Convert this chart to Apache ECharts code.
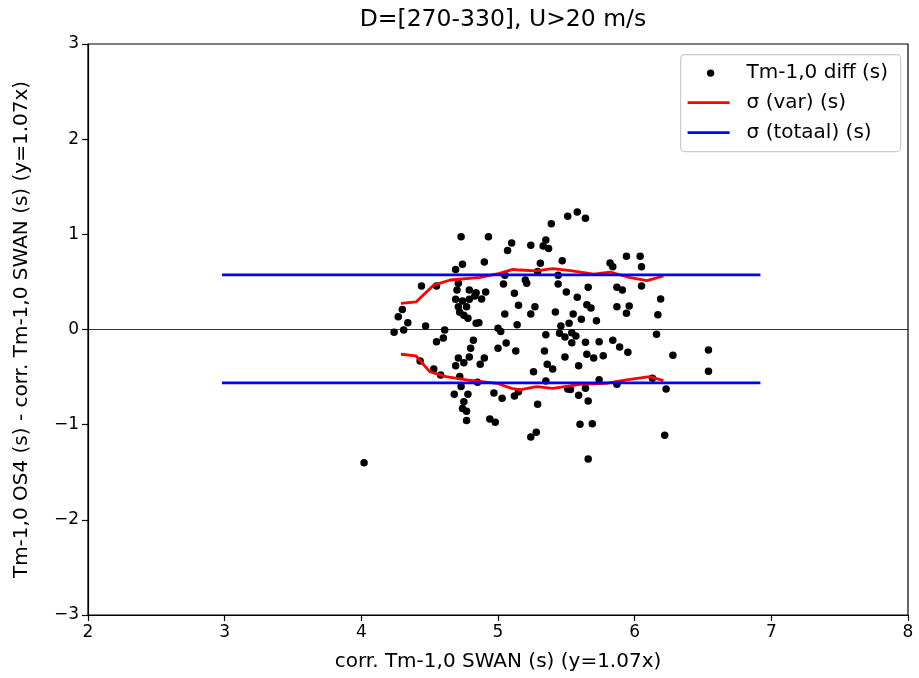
<!DOCTYPE html>
<html>
<head>
<meta charset="utf-8">
<script src="https://cdn.jsdelivr.net/npm/echarts@6/dist/echarts.min.js"></script>
<style>html,body{margin:0;padding:0;background:#fff}#c{width:919px;height:678px}</style>
</head>
<body>
<div id="c"></div>
<script>
const titleText = 'D=[270-330], U>20 m/s';
const xLabel = 'corr. Tm-1,0 SWAN (s) (y=1.07x)';
const yLabel = 'Tm-1,0 OS4 (s) - corr. Tm-1,0 SWAN (s) (y=1.07x)';
const seriesNames = ['Tm-1,0 diff (s)', 'σ (var) (s)', 'σ (totaal) (s)'];
const xTicks = [2, 3, 4, 5, 6, 7, 8];
const yTicks = [-3, -2, -1, 0, 1, 2, 3];

const diffPoints = [
  [4.73,0.975],[4.74,0.685],[4.69,0.63],[4.44,0.457],[4.55,0.457],[4.71,0.485],[4.70,0.415],[4.79,0.415],
  [4.69,0.317],[4.74,0.30],[4.79,0.317],[4.83,0.352],[4.71,0.24],[4.77,0.24],[4.72,0.18],[4.75,0.15],
  [4.78,0.118],[4.84,0.065],[4.30,0.21],[4.27,0.135],[4.34,0.07],[4.31,-0.005],[4.24,-0.03],[4.47,0.037],[4.61,-0.005],
  [5.51,1.19],[5.39,1.11],[4.93,0.975],[5.10,0.91],[5.07,0.83],[5.24,0.885],[5.35,0.94],[5.33,0.877],[5.37,0.85],
  [4.90,0.71],[5.31,0.695],[5.47,0.723],[5.29,0.61],[5.04,0.478],[5.05,0.57],[5.20,0.52],[5.21,0.485],[5.44,0.57],
  [5.44,0.478],[4.84,0.387],[4.91,0.394],[4.88,0.32],[5.12,0.38],[5.50,0.394],[5.15,0.254],[5.27,0.24],[5.05,0.163],
  [5.24,0.163],[5.42,0.184],[4.86,0.07],[5.14,0.05],[5.00,0.012],[5.46,0.037],[5.52,0.065],
  [5.58,1.234],[5.64,1.17],[5.82,0.70],[5.84,0.66],[5.94,0.77],[6.04,0.77],[6.05,0.66],[6.05,0.457],[5.87,0.443],
  [5.91,0.415],[5.66,0.443],[5.58,0.338],[6.19,0.32],[5.65,0.26],[5.68,0.226],[5.87,0.24],[5.96,0.247],[5.94,0.17],
  [5.55,0.163],[5.61,0.107],[5.72,0.092],[6.17,0.155],
  [6.16,-0.05],[4.60,-0.09],[4.55,-0.128],[4.82,-0.114],[4.80,-0.198],[4.79,-0.29],[4.71,-0.30],[4.69,-0.38],
  [4.75,-0.35],[4.43,-0.33],[4.53,-0.415],[4.58,-0.478],[4.72,-0.495],[4.73,-0.60],[4.68,-0.68],[4.78,-0.68],
  [4.75,-0.76],[4.74,-0.83],[4.77,-0.86],[4.77,-0.955],
  [5.02,-0.02],[5.06,-0.142],[5.00,-0.198],[5.13,-0.226],[4.90,-0.30],[4.87,-0.365],[5.35,-0.055],[5.45,-0.04],
  [5.49,-0.08],[5.34,-0.226],[5.49,-0.29],[5.36,-0.365],[5.40,-0.415],[5.26,-0.443],[5.35,-0.54],[4.85,-0.555],
  [4.97,-0.667],[5.03,-0.723],[5.12,-0.70],[5.15,-0.653],[5.29,-0.786],[4.94,-0.94],[4.98,-0.975],[5.24,-1.13],
  [5.28,-1.08],[5.51,-0.625],
  [5.54,-0.034],[5.57,-0.068],[5.54,-0.14],[5.64,-0.135],[5.74,-0.128],[5.84,-0.114],[5.89,-0.184],[5.95,-0.24],
  [5.65,-0.26],[5.70,-0.30],[5.77,-0.275],[5.59,-0.38],[5.74,-0.527],[5.87,-0.575],[6.13,-0.513],[6.23,-0.625],
  [5.53,-0.63],[5.64,-0.618],[5.59,-0.69],[5.66,-0.75],[5.60,-0.996],[5.69,-0.99],[6.22,-1.11],[5.66,-1.36],
  [4.02,-1.40],[6.54,-0.215],[6.54,-0.44],[6.28,-0.27]
];

const varUpper = [
  [4.29,0.275],[4.40,0.29],[4.53,0.467],[4.65,0.52],[4.87,0.548],[5.01,0.59],[5.11,0.632],[5.16,0.625],
  [5.28,0.615],[5.40,0.64],[5.53,0.618],[5.70,0.583],[5.82,0.604],[5.96,0.548],[6.09,0.513],[6.21,0.562]
];
const varLower = [
  [4.29,-0.26],[4.40,-0.278],[4.50,-0.443],[4.62,-0.495],[4.77,-0.53],[4.99,-0.565],[5.10,-0.618],[5.16,-0.635],
  [5.28,-0.60],[5.40,-0.618],[5.60,-0.576],[5.79,-0.565],[5.94,-0.53],[6.11,-0.495],[6.21,-0.537]
];
const totalUpper = [[2.98,0.575],[6.92,0.575]];
const totalLower = [[2.98,-0.56],[6.92,-0.56]];

const FONT = 'DejaVu Sans';
const chart = echarts.init(document.getElementById('c'), null, {renderer: 'canvas'});

const lgX = 680, lgY = 54;
const option = {
  animation: false,
  backgroundColor: '#fff',
  title: {
    text: titleText, left: 503, top: 8, textAlign: 'center', padding: 0,
    textStyle: {fontFamily: FONT, fontSize: 23.5, fontWeight: 'normal', color: '#000'}
  },
  grid: {left: 88, right: 11, top: 44, bottom: 63, show: true, borderColor: '#000', borderWidth: 1.2, backgroundColor: 'transparent'},
  xAxis: {
    type: 'value', min: xTicks[0], max: xTicks[xTicks.length - 1], interval: 1,
    name: xLabel, nameLocation: 'middle', nameGap: 37,
    nameTextStyle: {fontFamily: FONT, fontSize: 20, color: '#000'},
    axisLine: {show: true, onZero: false, lineStyle: {color: '#000', width: 1.2}},
    axisTick: {show: true, length: 6, lineStyle: {color: '#000', width: 1.2}},
    axisLabel: {fontFamily: FONT, fontSize: 17, color: '#000', margin: 9},
    splitLine: {show: false}
  },
  yAxis: {
    type: 'value', min: yTicks[0], max: yTicks[yTicks.length - 1], interval: 1,
    name: yLabel, nameLocation: 'middle', nameGap: 56, nameRotate: 90,
    nameTextStyle: {fontFamily: FONT, fontSize: 20, color: '#000'},
    axisLine: {show: true, onZero: false, lineStyle: {color: '#000', width: 1.2}},
    axisTick: {show: true, length: 6, lineStyle: {color: '#000', width: 1.2}},
    axisLabel: {fontFamily: FONT, fontSize: 17, color: '#000', margin: 9,
      formatter: v => (v < 0 ? '\u2212' + Math.abs(v) : String(v))},
    splitLine: {show: false}
  },
  series: [
    {
      name: seriesNames[0], type: 'scatter', data: diffPoints, symbolSize: 7.5,
      itemStyle: {color: '#000', opacity: 1}, z: 3,
      markLine: {silent: true, symbol: 'none', label: {show: false},
        lineStyle: {color: '#000', width: 0.8, type: 'solid', opacity: 1}, data: [{yAxis: 0}]}
    },
    {name: seriesNames[1], type: 'line', data: varUpper, symbol: 'none', lineStyle: {color: '#ff0000', width: 2.8}, z: 4},
    {name: seriesNames[1] + ' low', type: 'line', data: varLower, symbol: 'none', lineStyle: {color: '#ff0000', width: 2.8}, z: 4},
    {name: seriesNames[2], type: 'line', data: totalUpper, symbol: 'none', lineStyle: {color: '#0000ff', width: 2.8}, z: 5},
    {name: seriesNames[2] + ' low', type: 'line', data: totalLower, symbol: 'none', lineStyle: {color: '#0000ff', width: 2.8}, z: 5}
  ],
  graphic: [{
    type: 'group', left: lgX, top: lgY, z: 100,
    children: [
      {type: 'rect', shape: {x: 0, y: 0, width: 220, height: 97, r: 4},
        style: {fill: 'rgba(255,255,255,0.8)', stroke: '#cccccc', lineWidth: 1.2}},
      {type: 'circle', shape: {cx: 30, cy: 18.5, r: 3.7}, style: {fill: '#000'}},
      {type: 'text', x: 66, y: 18.5, style: {text: seriesNames[0], fontFamily: FONT, fontSize: 20, fill: '#000', verticalAlign: 'middle'}},
      {type: 'line', shape: {x1: 7, y1: 48, x2: 49, y2: 48}, style: {stroke: '#ff0000', lineWidth: 2.8}},
      {type: 'text', x: 66, y: 48, style: {text: seriesNames[1], fontFamily: FONT, fontSize: 20, fill: '#000', verticalAlign: 'middle'}},
      {type: 'line', shape: {x1: 7, y1: 78, x2: 49, y2: 78}, style: {stroke: '#0000ff', lineWidth: 2.8}},
      {type: 'text', x: 66, y: 78, style: {text: seriesNames[2], fontFamily: FONT, fontSize: 20, fill: '#000', verticalAlign: 'middle'}}
    ]
  }]
};
chart.setOption(option);
</script>
</body>
</html>
